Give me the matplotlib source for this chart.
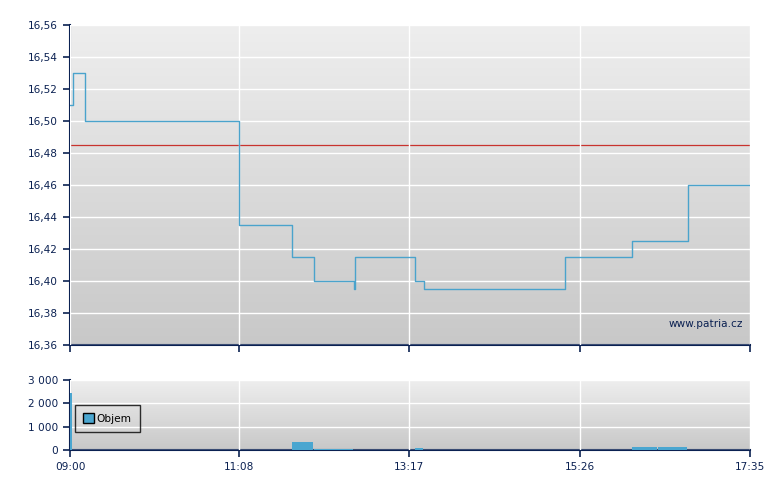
import matplotlib
matplotlib.use("Agg")
import matplotlib.pyplot as plt
import numpy as np
from matplotlib.ticker import FuncFormatter, FixedLocator

# ---- data ----
price_times = ["09:00", "09:02", "09:11", "11:08", "11:48", "12:05", "12:35", "12:36",
               "13:21", "13:28", "15:15", "16:06", "16:48"]
price_values = [16.51, 16.53, 16.50, 16.435, 16.415, 16.40, 16.395, 16.415,
                16.40, 16.395, 16.415, 16.425, 16.46]
prev_close = 16.485

vol_start = ["09:00", "11:48", "12:05", "13:21", "16:06", "16:18", "16:25"]
vol_end = ["09:02", "12:05", "12:35", "13:28", "16:18", "16:25", "16:48"]
vol_values = [2450, 360, 40, 85, 130, 130, 130]

x_tick_labels = ["09:00", "11:08", "13:17", "15:26", "17:35"]
price_ticks = [16.36, 16.38, 16.40, 16.42, 16.44, 16.46, 16.48, 16.50, 16.52, 16.54, 16.56]
vol_ticks = [0, 1000, 2000, 3000]

# ---- helpers ----
def to_min(s):
    h, m = s.split(":")
    return int(h) * 60 + int(m) - 9 * 60

NAVY = "#0b2152"
LINE = "#4aa3cc"
BAR = "#4aa6d0"
FS = 7.6
plt.rcParams["font.family"] = ["DejaVu Sans"]

fig = plt.figure(figsize=(7.8, 4.9), dpi=100)
fig.patch.set_facecolor("white")

ax = fig.add_axes([70 / 780, 1 - 345 / 490, 680 / 780, 320 / 490])
axv = fig.add_axes([70 / 780, 1 - 450 / 490, 680 / 780, 70 / 490])

xt = [to_min(s) for s in x_tick_labels]
x0, x1 = xt[0], xt[-1]


def style(a):
    grad = np.linspace(0, 1, 256).reshape(-1, 1)
    a.imshow(grad, extent=[0, 1, 0, 1], transform=a.transAxes, aspect="auto",
             cmap=matplotlib.colors.LinearSegmentedColormap.from_list("g", ["#eeeeee", "#c8c8c8"]),
             origin="upper", zorder=0)
    for s in ["top", "right"]:
        a.spines[s].set_visible(False)
    for s in ["left", "bottom"]:
        a.spines[s].set_color(NAVY)
        a.spines[s].set_linewidth(1.5)
    a.tick_params(colors=NAVY, labelcolor=NAVY, labelsize=FS, length=5, width=1.2,
                  direction="out")
    a.set_xlim(x0, x1)
    a.xaxis.set_major_locator(FixedLocator(xt))
    a.grid(True, color="white", linewidth=1.0, zorder=1)
    a.set_axisbelow(False)


style(ax)
style(axv)

# price
px = [to_min(t) for t in price_times] + [x1]
py = price_values + [price_values[-1]]
ax.axhline(prev_close, color="#c8332e", linewidth=0.9, zorder=2)
ax.step(px, py, where="post", color=LINE, linewidth=1.0, zorder=3)
ax.set_ylim(price_ticks[0], price_ticks[-1])
ax.set_yticks(price_ticks)
ax.yaxis.set_major_formatter(FuncFormatter(lambda v, p: f"{v:.2f}".replace(".", ",")))
ax.set_xticklabels([])
ax.text(0.9895, 0.067, "www.patria.cz", transform=ax.transAxes, ha="right", va="center",
        color=NAVY, fontsize=FS, zorder=4)

# volume
vs = np.array([to_min(t) for t in vol_start])
ve = np.array([to_min(t) for t in vol_end])
axv.bar(vs, vol_values, width=ve - vs - 0.6, align="edge", color=BAR, zorder=3,
        label="Objem")
axv.set_ylim(vol_ticks[0], vol_ticks[-1])
axv.set_yticks(vol_ticks)
axv.yaxis.set_major_formatter(FuncFormatter(lambda v, p: f"{int(v):,}".replace(",", " ")))
axv.set_xticklabels(x_tick_labels)
leg = axv.legend(loc="upper left", bbox_to_anchor=(0.0074, 0.643), frameon=True, fontsize=FS,
                 handlelength=0.95, handleheight=0.95, handletextpad=0.3,
                 borderpad=0.8, borderaxespad=0, fancybox=False, labelcolor="black")
leg.get_frame().set_edgecolor("black")
leg.get_frame().set_facecolor("none")
leg.get_frame().set_linewidth(1.0)
for h in leg.legend_handles:
    h.set_edgecolor("black")
    h.set_linewidth(1.0)

fig.savefig("out.png", dpi=100)
